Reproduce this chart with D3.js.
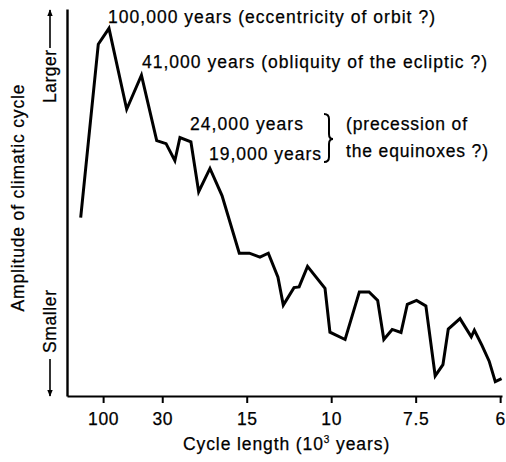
<!DOCTYPE html>
<html>
<head>
<meta charset="utf-8">
<script src="https://cdn.jsdelivr.net/npm/d3@7"></script>
<style>
  body { margin: 0; background: #fff; }
  text { font-family: "Liberation Sans", Arial, Helvetica, sans-serif; fill: #000; stroke: #000; stroke-width: 0.25px; }
</style>
</head>
<body>
<div id="chart"></div>
<script>
// cycle length in 10^3 years (x is drawn linear in frequency = 1/period)
const periods = [868, 123.5, 81.2, 51.8, 39.8, 32.1, 28.7, 26.1, 24.8, 22.4, 20.96, 19.17, 17.57,
  15.69, 14.77, 13.91, 13.30, 12.66, 12.33, 11.72, 11.45, 11.03, 10.25, 10.05, 9.48, 9.00, 8.70,
  8.45, 8.28, 8.06, 7.84, 7.69, 7.48, 7.28, 7.09, 6.94, 6.84, 6.63, 6.44, 6.39, 6.27, 6.16, 6.07, 5.98];
// relative amplitude (0 = smallest, 100 = top of axis)
const amplitude = [46.1, 90.9, 95.0, 74.1, 82.9, 66.0, 65.2, 60.8, 66.8, 65.7, 52.8, 58.8, 51.8,
  36.9, 36.9, 35.9, 36.9, 30.7, 23.5, 28.0, 28.2, 33.5, 27.8, 16.5, 14.6, 26.9, 26.9,
  24.7, 14.6, 17.2, 16.4, 23.7, 24.7, 23.3, 5.2, 8.1, 17.3, 20.0, 15.3, 17.0, 13.1, 9.0, 3.7, 4.5];
const tickPeriods = [100, 30, 15, 10, 7.5, 6];

const w = 506, h = 462;
const svg = d3.select("#chart").append("svg")
    .attr("width", w).attr("height", h);

const x = d3.scaleLinear().domain([-0.00425, 0.1674]).range([67, 502]);
const y = d3.scaleLinear().domain([0, 100]).range([396, 9]);

const data = periods.map((p, i) => ({ f: 1 / p, a: amplitude[i] }));

// axes
const xAxis = svg.append("g")
    .attr("transform", "translate(0,396)")
    .call(d3.axisBottom(x)
        .tickValues(tickPeriods.map(p => 1 / p))
        .tickFormat(f => d3.format("~")(+(1 / f).toFixed(1)))
        .tickSize(7)
        .tickSizeOuter(0)
        .tickPadding(6));
xAxis.select(".domain").attr("stroke-width", 2.2);
xAxis.selectAll(".tick line").attr("stroke-width", 2);
xAxis.selectAll(".tick text")
    .style("font-size", "17.5px")
    .style("letter-spacing", "0.6px")
    .attr("dy", "0.9em")
    .attr("fill", "#000");

const yAxis = svg.append("g")
    .attr("transform", "translate(67,0)")
    .call(d3.axisLeft(y).tickValues([]).tickSizeOuter(0));
yAxis.select(".domain").attr("stroke-width", 2.4);

// curve
svg.append("path")
    .datum(data)
    .attr("fill", "none")
    .attr("stroke", "#000")
    .attr("stroke-width", 3)
    .attr("stroke-linejoin", "miter")
    .attr("d", d3.line().x(d => x(d.f)).y(d => y(d.a)));

// annotations
const notes = [
  { t: "100,000 years (eccentricity of orbit ?)", x: 108, y: 23, len: 327 },
  { t: "41,000 years (obliquity of the ecliptic ?)", x: 142, y: 68, len: 345 },
  { t: "24,000 years", x: 190, y: 130, len: 113 },
  { t: "19,000 years", x: 209, y: 160, len: 112 },
  { t: "(precession of", x: 346, y: 130, len: 121 },
  { t: "the equinoxes ?)", x: 346, y: 157, len: 142 }
];
svg.selectAll("text.note")
  .data(notes)
  .enter().append("text")
    .attr("class", "note")
    .attr("x", d => d.x)
    .attr("y", d => d.y)
    .attr("textLength", d => d.len)
    .attr("lengthAdjust", "spacing")
    .style("font-size", "17.5px")
    .text(d => d.t);

// brace
svg.append("path")
    .attr("fill", "none")
    .attr("stroke", "#000")
    .attr("stroke-width", 2)
    .attr("d", "M324,114 Q329,114 329,119 L329,134 Q329,139 333,139 Q329,139 329,144 L329,157 Q329,162 324,162");

// y labels
svg.append("text")
    .attr("transform", "translate(24,198) rotate(-90)")
    .attr("text-anchor", "middle")
    .attr("textLength", 227)
    .attr("lengthAdjust", "spacing")
    .style("font-size", "17.5px")
    .text("Amplitude of climatic cycle");

svg.append("text")
    .attr("transform", "translate(56,103) rotate(-90)")
    .attr("textLength", 53)
    .attr("lengthAdjust", "spacing")
    .style("font-size", "17.5px")
    .text("Larger");

svg.append("text")
    .attr("transform", "translate(56,353) rotate(-90)")
    .attr("textLength", 63)
    .attr("lengthAdjust", "spacing")
    .style("font-size", "17.5px")
    .text("Smaller");

const defs = svg.append("defs");
defs.append("marker")
    .attr("id", "arrow")
    .attr("viewBox", "0 0 10 10")
    .attr("refX", 9).attr("refY", 5)
    .attr("markerWidth", 7).attr("markerHeight", 7)
    .attr("markerUnits", "userSpaceOnUse")
    .attr("orient", "auto")
  .append("path")
    .attr("d", "M0,1 L10,5 L0,9 Z")
    .attr("fill", "#000");

svg.append("line")
    .attr("x1", 50).attr("y1", 48).attr("x2", 50).attr("y2", 10)
    .attr("stroke", "#000").attr("stroke-width", 1.6)
    .attr("marker-end", "url(#arrow)");
svg.append("line")
    .attr("x1", 50).attr("y1", 359).attr("x2", 50).attr("y2", 396)
    .attr("stroke", "#000").attr("stroke-width", 1.6)
    .attr("marker-end", "url(#arrow)");

// x label
const xl = svg.append("text")
    .attr("x", 183).attr("y", 450)
    .style("font-size", "17.5px")
    .style("letter-spacing", "0.9px");
xl.append("tspan").text("Cycle length (10");
xl.append("tspan").attr("dy", -7).style("font-size", "10px").text("3");
xl.append("tspan").attr("dy", 7).text(" years)");
</script>
</body>
</html>
